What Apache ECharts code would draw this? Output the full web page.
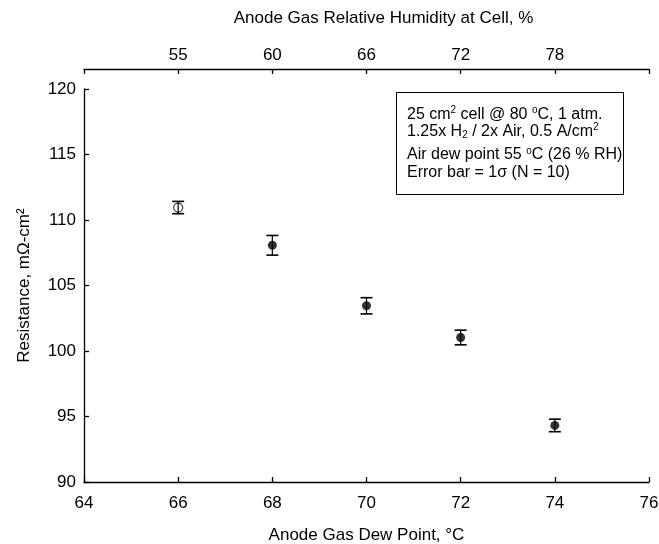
<!DOCTYPE html>
<html>
<head>
<meta charset="utf-8">
<script src="https://cdn.jsdelivr.net/npm/echarts@6/dist/echarts.min.js"></script>
<style>
  html, body { margin: 0; padding: 0; background: #fff; }
  #chart { width: 659px; height: 544px; }
</style>
</head>
<body>
<div id="chart"></div>
<script>
// ---- data ----
const dewPoint = [66, 68, 70, 72, 74];                       // Anode gas dew point, °C
const resistance = [110.95, 108.07, 103.45, 101.03, 94.32];   // mΩ-cm²
const errorSigma = [0.47, 0.75, 0.62, 0.56, 0.48];            // 1σ
const openMarker = [true, false, false, false, false];
const rhTickPositions = [66, 68, 70, 72, 74];                 // top axis tick positions (dew point)
const rhTickLabels = ['55', '60', '66', '72', '78'];          // relative humidity labels, %
const legendLines = [
  '25 cm{sup|2} cell @ 80 {sup|o}C, 1 atm.',
  '1.25x H{sub|2} / 2x Air, 0.5 A/cm{sup|2}',
  'Air dew point 55 {sup|o}C (26 % RH)',
  'Error bar = 1σ (N = 10)'
];

const FONT = '"Liberation Sans", Arial, Helvetica, sans-serif';
const chart = echarts.init(document.getElementById('chart'), null, { renderer: 'canvas' });

const errData = dewPoint.map((x, i) => [x, resistance[i] - errorSigma[i], resistance[i] + errorSigma[i]]);
const ptData = dewPoint.map((x, i) => ({
  value: [x, resistance[i]],
  itemStyle: openMarker[i]
    ? { color: 'rgba(0,0,0,0)', borderColor: '#000', borderWidth: 1.2 }
    : { color: '#000', borderColor: '#000', borderWidth: 0 }
}));

const axisCommon = {
  axisLine: { show: true, lineStyle: { color: '#000', width: 1.3 } },
  axisTick: { show: true, inside: true, length: 5, lineStyle: { color: '#000', width: 1.3 } },
  splitLine: { show: false },
  axisLabel: { color: '#000', fontSize: 17, fontFamily: FONT },
  nameTextStyle: { color: '#000', fontSize: 17, fontFamily: FONT }
};

const legendY = [114.5, 131.5, 155, 172.5];
const rich = {
  sup: { fontSize: 10, fontFamily: FONT, fill: '#000', verticalAlign: 'top', padding: [0, 0, 8, 0] },
  sub: { fontSize: 10, fontFamily: FONT, fill: '#000', verticalAlign: 'bottom', padding: [6, 0, 0, 0] }
};

chart.setOption({
  animation: false,
  backgroundColor: '#fff',
  grid: { left: 84, right: 10, top: 89, bottom: 62, containLabel: false, outerBoundsMode: 'none' },
  xAxis: [
    Object.assign({}, axisCommon, {
      type: 'value', position: 'bottom', min: 64, max: 76, interval: 2,
      name: 'Anode Gas Dew Point, °C', nameLocation: 'middle', nameGap: 45,
      axisLabel: Object.assign({}, axisCommon.axisLabel, { margin: 13 })
    }),
    Object.assign({}, axisCommon, {
      type: 'value', position: 'top', offset: 20, min: 64, max: 76, interval: 2,
      name: 'Anode Gas Relative Humidity at Cell, %', nameLocation: 'middle', nameGap: 42,
      nameTextStyle: Object.assign({}, axisCommon.nameTextStyle, { padding: [0, 0, 0, 34] }),
      axisLabel: Object.assign({}, axisCommon.axisLabel, {
        margin: 5,
        formatter: v => { const i = rhTickPositions.indexOf(v); return i >= 0 ? rhTickLabels[i] : ''; }
      })
    })
  ],
  yAxis: Object.assign({}, axisCommon, {
    type: 'value', min: 90, max: 120, interval: 5,
    name: 'Resistance, mΩ-cm²', nameLocation: 'middle', nameGap: 51,
    axisLabel: Object.assign({}, axisCommon.axisLabel, { margin: 8 })
  }),
  series: [
    {
      type: 'scatter', xAxisIndex: 0, data: ptData, symbol: 'circle', symbolSize: 9, z: 2
    },
    {
      type: 'custom', xAxisIndex: 0, data: errData, z: 3,
      renderItem: (params, api) => {
        const x = api.value(0);
        const lo = api.coord([x, api.value(1)]);
        const hi = api.coord([x, api.value(2)]);
        const hw = 6;
        const st = { stroke: '#000', lineWidth: 1.2 };
        return {
          type: 'group',
          children: [
            { type: 'line', shape: { x1: hi[0], y1: hi[1], x2: lo[0], y2: lo[1] }, style: st },
            { type: 'line', shape: { x1: hi[0] - hw, y1: hi[1], x2: hi[0] + hw, y2: hi[1] }, style: { stroke: '#000', lineWidth: 1.6 } },
            { type: 'line', shape: { x1: lo[0] - hw, y1: lo[1], x2: lo[0] + hw, y2: lo[1] }, style: { stroke: '#000', lineWidth: 1.6 } }
          ]
        };
      }
    }
  ],
  graphic: [
    { type: 'rect', left: 396, top: 92, shape: { width: 227, height: 102 }, style: { fill: '#fff', stroke: '#000', lineWidth: 1 }, z: 10 }
  ].concat(legendLines.map((t, i) => ({
    type: 'text', x: 407, y: legendY[i], z: 11,
    style: { text: t, fontSize: 16, fontFamily: FONT, fill: '#000', verticalAlign: 'middle', align: 'left', rich: rich }
  })))
});
</script>
</body>
</html>
